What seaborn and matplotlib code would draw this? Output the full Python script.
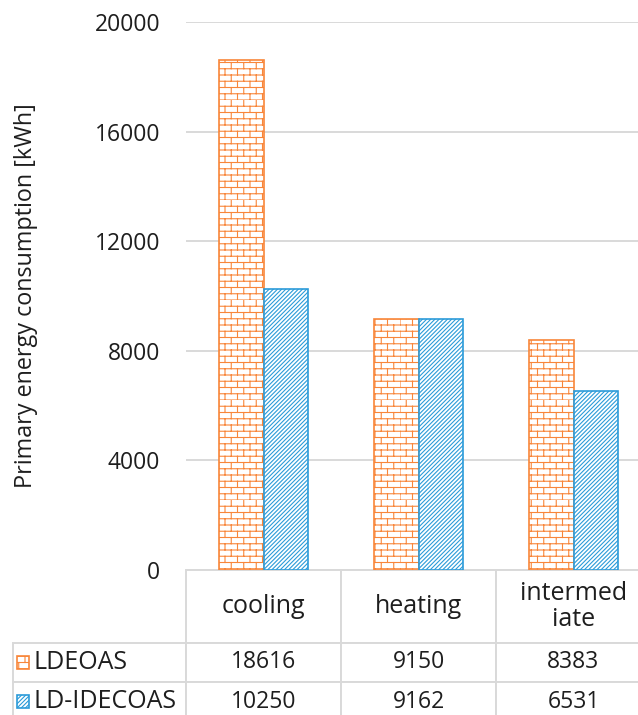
import warnings
import numpy as np
import pandas as pd
import matplotlib
matplotlib.use("Agg")
import matplotlib.pyplot as plt
from matplotlib import hatch as mhatch
from matplotlib.path import Path
from matplotlib.patches import Rectangle
import seaborn as sns

warnings.filterwarnings("ignore", message=".*hatch must consist.*")

# ---- data -------------------------------------------------------------
categories = ["cooling", "heating", "intermediate"]
category_headers = ["cooling", "heating", "intermed\niate"]
series = ["LDEOAS", "LD-IDECOAS"]
ldeoas = [18616, 9150, 8383]
ld_idecoas = [10250, 9162, 6531]
yticks = [0, 4000, 8000, 12000, 16000, 20000]

colors = {"LDEOAS": "#F8863A", "LD-IDECOAS": "#2B9BD9"}
hatches = {"LDEOAS": "b", "LD-IDECOAS": "////////"}


# ---- custom brick hatch ('b') ----------------------------------------
class BrickHatch(mhatch.HatchPatternBase):
    def __init__(self, hatch, density):
        n = hatch.count("b")
        self.rows = 16 * n
        self.cols = 8 * n
        self.num_vertices = (self.rows * 2 + self.rows * self.cols * 2) if n else 0

    def set_vertices_and_codes(self, vertices, codes):
        k = 0
        h = 1.0 / self.rows
        for i in range(self.rows):
            y = i * h
            vertices[k] = (0.0, y)
            vertices[k + 1] = (1.0, y)
            codes[k] = Path.MOVETO
            codes[k + 1] = Path.LINETO
            k += 2
            off = 0.5 * (i % 2)
            for j in range(self.cols):
                x = (j + off) / self.cols
                vertices[k] = (x, y)
                vertices[k + 1] = (x, y + h)
                codes[k] = Path.MOVETO
                codes[k + 1] = Path.LINETO
                k += 2


mhatch._hatch_types.append(BrickHatch)

# ---- styling ----------------------------------------------------------
sns.set_theme(style="white")
plt.rcParams["font.family"] = ["Open Sans", "DejaVu Sans"]
plt.rcParams["hatch.linewidth"] = 0.8
text_color = "#1e1e1e"
grid_color = "#d9d9d9"
FS_NUM = 16.5
FS_TXT = 18

df = pd.DataFrame({
    "category": categories * 2,
    "series": [series[0]] * 3 + [series[1]] * 3,
    "value": ldeoas + ld_idecoas,
})

W, H = 638, 715
fig = plt.figure(figsize=(W / 100, H / 100), dpi=100)
ax_l, ax_r, ax_t, ax_b = 186, 651, 22, 570
ax = fig.add_axes([ax_l / W, 1 - ax_b / H, (ax_r - ax_l) / W, (ax_b - ax_t) / H])

sns.barplot(data=df, x="category", y="value", hue="series", order=categories,
            hue_order=series, palette=colors, width=0.58, gap=0, legend=False,
            errorbar=None, ax=ax)

for cont, s in zip(ax.containers, series):
    for bar in cont:
        bar.set_facecolor("white")
        bar.set_edgecolor(colors[s])
        bar.set_linewidth(1.2)
        bar.set_hatch(hatches[s])

ax.set_ylim(0, 20000)
ax.set_xlim(-0.5, 2.5)
ax.set_yticks(yticks)
ax.set_yticklabels([str(t) for t in yticks], fontsize=FS_NUM, color=text_color)
ax.tick_params(axis="y", length=0, pad=18.5)
ax.set_xticks([])
ax.set_xlabel("")
ax.set_ylabel("Primary energy consumption [kWh]", fontsize=16.8, color=text_color)
ax.yaxis.set_label_coords((38 - ax_l) / (ax_r - ax_l), 0.5)
ax.set_axisbelow(True)
ax.yaxis.grid(True, color=grid_color, linewidth=1.4)
for sp in ax.spines.values():
    sp.set_visible(False)

# ---- data table under the plot ---------------------------------------
# first column holds the series names; its header cell stays blank
cell_text = [[series[0]] + [str(v) for v in ldeoas],
             [series[1]] + [str(v) for v in ld_idecoas]]
tab_l, tab_bottom = 13, 721
aw, ah = ax_r - ax_l, ax_b - ax_t
tbl = ax.table(cellText=cell_text, colLabels=[""] + category_headers,
               cellLoc="center",
               bbox=[(tab_l - ax_l) / aw, -(tab_bottom - ax_b) / ah,
                     (ax_r - tab_l) / aw, (tab_bottom - ax_b) / ah])
tbl.auto_set_font_size(False)
for (r, c), cell in tbl.get_celld().items():
    cell.set_edgecolor(grid_color)
    cell.set_linewidth(1.4)
    cell.set_height(73 if r == 0 else 39)
    cell.set_width(173 if c == 0 else 155)
    txt = cell.get_text()
    txt.set_color(text_color)
    txt.set_fontsize(FS_TXT if (r == 0 or c == 0) else FS_NUM)
    if r == 0:
        txt.set_linespacing(1.05)
    if c == 0:
        txt.set_horizontalalignment("left")
        cell.PAD = 20 / 173
        if r == 0:
            cell.set_visible(False)

# legend keys inside the row-label cells
for i, s in enumerate(series):
    yc = 643 + 39 * i + 19.5
    key = Rectangle((17 / W, 1 - (yc + 6.5) / H), 12 / W, 13 / H,
                    transform=fig.transFigure, facecolor="white",
                    edgecolor=colors[s], linewidth=1.2, hatch=hatches[s])
    fig.patches.append(key)

fig.savefig("out.png", dpi=100)
